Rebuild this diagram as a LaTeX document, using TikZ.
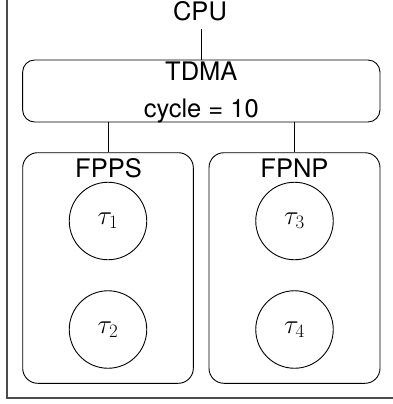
\RequirePackage{fix-cm}
\documentclass[tikz,border=0pt]{standalone}
\usepackage{fontspec}
\setmainfont{TeX Gyre Heros}
\begin{document}
\begin{tikzpicture}[x=1pt,y=-1pt,
  lbl/.style={font=\fontsize{25.5}{30}\selectfont, inner sep=0pt, anchor=base},
  box/.style={draw, rectangle, line width=0.9pt, inner sep=0pt},
  task/.style={draw, circle, minimum size=77.5pt, inner sep=0pt, line width=0.9pt, font=\fontsize{27}{32}\selectfont},
  conn/.style={line width=0.9pt}]
\useasboundingbox (0,0) rectangle (392,404);
\draw[black!70, line width=1.5pt] (7,-5) -- (7,398) -- (400,398);
% boxes
\node[box, rounded corners=12pt, minimum width=357.3pt, minimum height=62pt] (tdma) at (201.3,91) {};
\node[lbl] (tdmalbl) at (201.3,80.7) {TDMA};
\node[lbl] (cyc) at (201.3,117) {cycle = 10};
\node[box, rounded corners=15pt, minimum width=170.6pt, minimum height=230.6pt] (fpps) at (108,268) {};
\node[lbl] (fppslbl) at (108.5,177.7) {FPPS};
\node[box, rounded corners=15pt, minimum width=171pt, minimum height=230.6pt] (fpnp) at (294.5,268) {};
\node[lbl] (fpnplbl) at (294.5,177.7) {FPNP};
% tasks
\node[task] (t1) at (108,221) {$\tau_1$};
\node[task] (t2) at (108,329.5) {$\tau_2$};
\node[task] (t3) at (294.5,221) {$\tau_3$};
\node[task] (t4) at (294.5,329.5) {$\tau_4$};
% CPU
\node[lbl] (cpu) at (200,20.5) {CPU};
\coordinate (cpuend) at (201.3,29);
\draw[conn] (tdma.north) -- (cpuend);
\draw[conn] (fpps.north) -- (fpps.north |- tdma.south);
\draw[conn] (fpnp.north) -- (fpnp.north |- tdma.south);
\end{tikzpicture}
\end{document}
